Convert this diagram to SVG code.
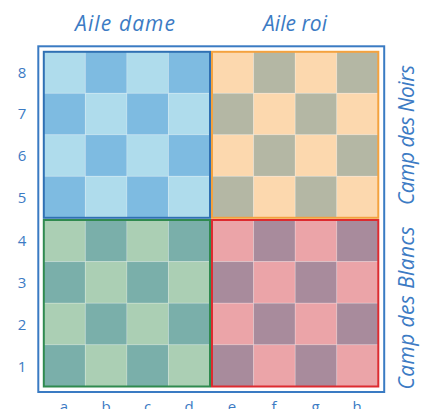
<svg xmlns="http://www.w3.org/2000/svg" width="425" height="409" viewBox="0 0 425 409">
<style>
.lbl{font-family:"Open Sans","Liberation Sans",sans-serif;fill:#3c7bc4}
.it{font-style:italic;font-size:21px;font-weight:400}
.num{font-size:15px;text-anchor:middle;font-weight:400}
.sq{stroke:#ffffff;stroke-opacity:0.18;stroke-width:1}
.bl{fill:#afdcec}.bd{fill:#7ebbe1}
.ol{fill:#fcd8ae}.od{fill:#b4b7a4}
.gl{fill:#abcfb4}.gd{fill:#7aafaa}
.rl{fill:#eba4a8}.rd{fill:#a88b9c}
.q{fill:none;stroke-width:2}
</style>
<g id="frame"><rect x="38.3" y="46.3" width="345.9" height="345.7" fill="none" stroke="#3a7bc3" stroke-width="2"/></g>
<g id="quadrant-dame-noirs">
<rect class="sq bl" x="43.8" y="51.8" width="41.55" height="41.5"/><rect class="sq bd" x="85.35" y="51.8" width="41.55" height="41.5"/><rect class="sq bl" x="126.9" y="51.8" width="41.55" height="41.5"/><rect class="sq bd" x="168.45" y="51.8" width="41.55" height="41.5"/>
<rect class="sq bd" x="43.8" y="93.3" width="41.55" height="41.5"/><rect class="sq bl" x="85.35" y="93.3" width="41.55" height="41.5"/><rect class="sq bd" x="126.9" y="93.3" width="41.55" height="41.5"/><rect class="sq bl" x="168.45" y="93.3" width="41.55" height="41.5"/>
<rect class="sq bl" x="43.8" y="134.8" width="41.55" height="41.5"/><rect class="sq bd" x="85.35" y="134.8" width="41.55" height="41.5"/><rect class="sq bl" x="126.9" y="134.8" width="41.55" height="41.5"/><rect class="sq bd" x="168.45" y="134.8" width="41.55" height="41.5"/>
<rect class="sq bd" x="43.8" y="176.3" width="41.55" height="41.5"/><rect class="sq bl" x="85.35" y="176.3" width="41.55" height="41.5"/><rect class="sq bd" x="126.9" y="176.3" width="41.55" height="41.5"/><rect class="sq bl" x="168.45" y="176.3" width="41.55" height="41.5"/>
<rect class="q" x="43.8" y="51.8" width="166.2" height="166" stroke="#2f70b3"/>
</g>
<g id="quadrant-roi-noirs">
<rect class="sq ol" x="212" y="51.8" width="41.6" height="41.5"/><rect class="sq od" x="253.6" y="51.8" width="41.6" height="41.5"/><rect class="sq ol" x="295.2" y="51.8" width="41.6" height="41.5"/><rect class="sq od" x="336.8" y="51.8" width="41.5" height="41.5"/>
<rect class="sq od" x="212" y="93.3" width="41.6" height="41.5"/><rect class="sq ol" x="253.6" y="93.3" width="41.6" height="41.5"/><rect class="sq od" x="295.2" y="93.3" width="41.6" height="41.5"/><rect class="sq ol" x="336.8" y="93.3" width="41.5" height="41.5"/>
<rect class="sq ol" x="212" y="134.8" width="41.6" height="41.5"/><rect class="sq od" x="253.6" y="134.8" width="41.6" height="41.5"/><rect class="sq ol" x="295.2" y="134.8" width="41.6" height="41.5"/><rect class="sq od" x="336.8" y="134.8" width="41.5" height="41.5"/>
<rect class="sq od" x="212" y="176.3" width="41.6" height="41.5"/><rect class="sq ol" x="253.6" y="176.3" width="41.6" height="41.5"/><rect class="sq od" x="295.2" y="176.3" width="41.6" height="41.5"/><rect class="sq ol" x="336.8" y="176.3" width="41.5" height="41.5"/>
<rect class="q" x="212" y="51.8" width="166.3" height="166" stroke="#f4a23e"/>
</g>
<g id="quadrant-dame-blancs">
<rect class="sq gl" x="43.8" y="220" width="41.55" height="41.6"/><rect class="sq gd" x="85.35" y="220" width="41.55" height="41.6"/><rect class="sq gl" x="126.9" y="220" width="41.55" height="41.6"/><rect class="sq gd" x="168.45" y="220" width="41.55" height="41.6"/>
<rect class="sq gd" x="43.8" y="261.6" width="41.55" height="41.6"/><rect class="sq gl" x="85.35" y="261.6" width="41.55" height="41.6"/><rect class="sq gd" x="126.9" y="261.6" width="41.55" height="41.6"/><rect class="sq gl" x="168.45" y="261.6" width="41.55" height="41.6"/>
<rect class="sq gl" x="43.8" y="303.2" width="41.55" height="41.6"/><rect class="sq gd" x="85.35" y="303.2" width="41.55" height="41.6"/><rect class="sq gl" x="126.9" y="303.2" width="41.55" height="41.6"/><rect class="sq gd" x="168.45" y="303.2" width="41.55" height="41.6"/>
<rect class="sq gd" x="43.8" y="344.8" width="41.55" height="41.7"/><rect class="sq gl" x="85.35" y="344.8" width="41.55" height="41.7"/><rect class="sq gd" x="126.9" y="344.8" width="41.55" height="41.7"/><rect class="sq gl" x="168.45" y="344.8" width="41.55" height="41.7"/>
<rect class="q" x="43.8" y="220" width="166.2" height="166.5" stroke="#2f8a4f"/>
</g>
<g id="quadrant-roi-blancs">
<rect class="sq rl" x="212" y="220" width="41.6" height="41.6"/><rect class="sq rd" x="253.6" y="220" width="41.6" height="41.6"/><rect class="sq rl" x="295.2" y="220" width="41.6" height="41.6"/><rect class="sq rd" x="336.8" y="220" width="41.5" height="41.6"/>
<rect class="sq rd" x="212" y="261.6" width="41.6" height="41.6"/><rect class="sq rl" x="253.6" y="261.6" width="41.6" height="41.6"/><rect class="sq rd" x="295.2" y="261.6" width="41.6" height="41.6"/><rect class="sq rl" x="336.8" y="261.6" width="41.5" height="41.6"/>
<rect class="sq rl" x="212" y="303.2" width="41.6" height="41.6"/><rect class="sq rd" x="253.6" y="303.2" width="41.6" height="41.6"/><rect class="sq rl" x="295.2" y="303.2" width="41.6" height="41.6"/><rect class="sq rd" x="336.8" y="303.2" width="41.5" height="41.6"/>
<rect class="sq rd" x="212" y="344.8" width="41.6" height="41.7"/><rect class="sq rl" x="253.6" y="344.8" width="41.6" height="41.7"/><rect class="sq rd" x="295.2" y="344.8" width="41.6" height="41.7"/><rect class="sq rl" x="336.8" y="344.8" width="41.5" height="41.7"/>
<rect class="q" x="212" y="220" width="166.3" height="166.5" stroke="#dd2b30"/>
</g>
<g id="labels">
<text class="lbl it" x="125" y="31" text-anchor="middle" textLength="100">Aile dame</text>
<text class="lbl it" x="295" y="31" text-anchor="middle" textLength="64">Aile roi</text>
<text class="lbl it" x="414" y="135" text-anchor="middle" transform="rotate(-90 414 135)" textLength="140">Camp des Noirs</text>
<text class="lbl it" x="414" y="308" text-anchor="middle" transform="rotate(-90 414 308)" textLength="163">Camp des Blancs</text>
<text class="lbl num" x="22" y="77.6">8</text>
<text class="lbl num" x="22" y="119">7</text>
<text class="lbl num" x="22" y="161">6</text>
<text class="lbl num" x="22" y="202.6">5</text>
<text class="lbl num" x="22" y="245.8">4</text>
<text class="lbl num" x="22" y="287.8">3</text>
<text class="lbl num" x="22" y="329.8">2</text>
<text class="lbl num" x="22" y="371.6">1</text>
<text class="lbl num" x="64" y="411.5">a</text>
<text class="lbl num" x="106" y="411.5">b</text>
<text class="lbl num" x="147.5" y="411.5">c</text>
<text class="lbl num" x="189" y="411.5">d</text>
<text class="lbl num" x="232" y="411.5">e</text>
<text class="lbl num" x="274" y="411.5">f</text>
<text class="lbl num" x="315.5" y="411.5">g</text>
<text class="lbl num" x="357" y="411.5">h</text>
</g>
</svg>
